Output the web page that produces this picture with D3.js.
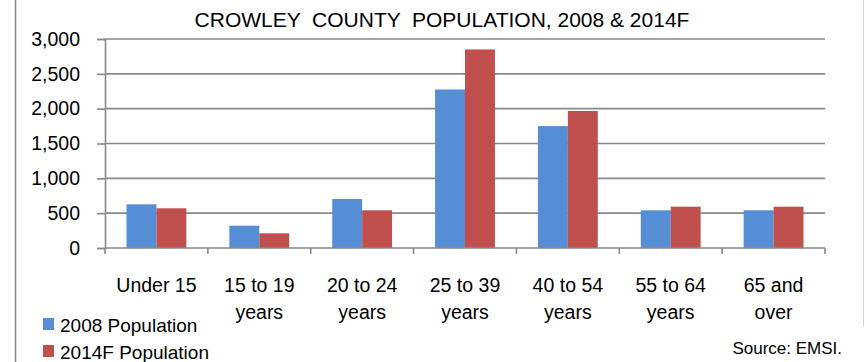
<!DOCTYPE html>
<html><head><meta charset="utf-8">
<script src="https://cdn.jsdelivr.net/npm/d3@7"></script>
<style>
html,body{margin:0;padding:0;background:#fff;}
svg{display:block;font-family:"Liberation Sans",Arial,sans-serif;}
</style></head>
<body>
<svg id="c" width="865" height="362"></svg>
<script>
const categories = ["Under 15", "15 to 19\nyears", "20 to 24\nyears", "25 to 39\nyears", "40 to 54\nyears", "55 to 64\nyears", "65 and\nover"];
const pop2008 = [627, 320, 703, 2275, 1750, 541, 541];
const pop2014F = [570, 211, 541, 2850, 1967, 593, 593];
const seriesNames = ["2008 Population", "2014F Population"];
const yTicks = [0, 500, 1000, 1500, 2000, 2500, 3000];
const title = "CROWLEY  COUNTY  POPULATION, 2008 & 2014F";
const source = "Source: EMSI.";

const colors = ["#558ED5", "#C0504D"];
const svg = d3.select("#c");
const L = 105, R = 825, T = 39, B = 248;
const gridColor = "#898989";

// outer borders
svg.append("line").attr("x1",15.5).attr("x2",15.5).attr("y1",0).attr("y2",362)
  .attr("stroke","#8a8a8a").attr("stroke-width",1.6);
svg.append("line").attr("x1",863.5).attr("x2",863.5).attr("y1",0).attr("y2",326)
  .attr("stroke","#d6d6d6").attr("stroke-width",1);

const y = d3.scaleLinear().domain([0,3000]).range([B,T]);
const x0 = d3.scaleBand().domain(categories).range([L,R]).padding(0);
const series = [pop2008, pop2014F];
const x1 = d3.scaleBand().domain([0,1]).range([21.5, x0.bandwidth()-21.5]).padding(0);

// gridlines
svg.append("g").selectAll("line").data(yTicks.filter(d=>d>0)).join("line")
  .attr("x1",L).attr("x2",R).attr("y1",d=>y(d)).attr("y2",d=>y(d))
  .attr("stroke",gridColor).attr("stroke-width",1.6);

// bars
const groups = svg.append("g").selectAll("g").data(categories).join("g")
  .attr("transform",c=>`translate(${x0(c)},0)`);
groups.selectAll("rect").data((c,i)=>series.map((s,k)=>({k, v:s[i]}))).join("rect")
  .attr("x",d=>x1(d.k)).attr("width",x1.bandwidth())
  .attr("y",d=>y(d.v)).attr("height",d=>B-y(d.v))
  .attr("fill",d=>colors[d.k]);

// y axis
const yAxis = svg.append("g").attr("transform",`translate(${L},0)`)
  .call(d3.axisLeft(y).tickValues(yTicks).tickFormat(d3.format(",")).tickSize(8).tickPadding(17));
yAxis.select(".domain").attr("stroke",gridColor).attr("stroke-width",1.6);
yAxis.selectAll(".tick line").attr("stroke",gridColor).attr("stroke-width",1.6);
yAxis.selectAll(".tick text").attr("font-size","19.5px").attr("fill","#000")
  .attr("font-family","Liberation Sans, Arial, sans-serif");

// x axis line and boundary ticks
svg.append("line").attr("x1",L).attr("x2",R).attr("y1",B).attr("y2",B)
  .attr("stroke",gridColor).attr("stroke-width",1.6);
const bounds = categories.map(c=>x0(c)).concat([R]);
svg.append("g").selectAll("line").data(bounds).join("line")
  .attr("x1",d=>d).attr("x2",d=>d).attr("y1",B).attr("y2",B+6)
  .attr("stroke",gridColor).attr("stroke-width",1.6);

// x labels
const xl = svg.append("g").selectAll("text").data(categories).join("text")
  .attr("x",c=>x0(c)+x0.bandwidth()/2).attr("y",292)
  .attr("text-anchor","middle").attr("font-size","19.5px").attr("fill","#000");
xl.each(function(c){
  const lines = c.split("\n");
  d3.select(this).selectAll("tspan").data(lines).join("tspan")
    .attr("x",x0(c)+x0.bandwidth()/2).attr("dy",(d,i)=>i===0?0:27).text(d=>d);
});

// title
svg.append("text").attr("x",442).attr("y",26.5).attr("text-anchor","middle")
  .attr("font-size","21px").attr("fill","#000").style("white-space","pre").text(title);

// legend
const lg = svg.append("g").selectAll("g").data(seriesNames).join("g")
  .attr("transform",(d,i)=>`translate(43,${318 + i*27})`);
lg.append("rect").attr("width",11).attr("height",12).attr("fill",(d,i)=>colors[i]);
lg.append("text").attr("x",17).attr("y",13.5).attr("font-size","19px").attr("fill","#000").text(d=>d);

// source
svg.append("text").attr("x",842).attr("y",354).attr("text-anchor","end")
  .attr("font-size","17px").attr("fill","#000").text(source);
</script>
</body></html>
